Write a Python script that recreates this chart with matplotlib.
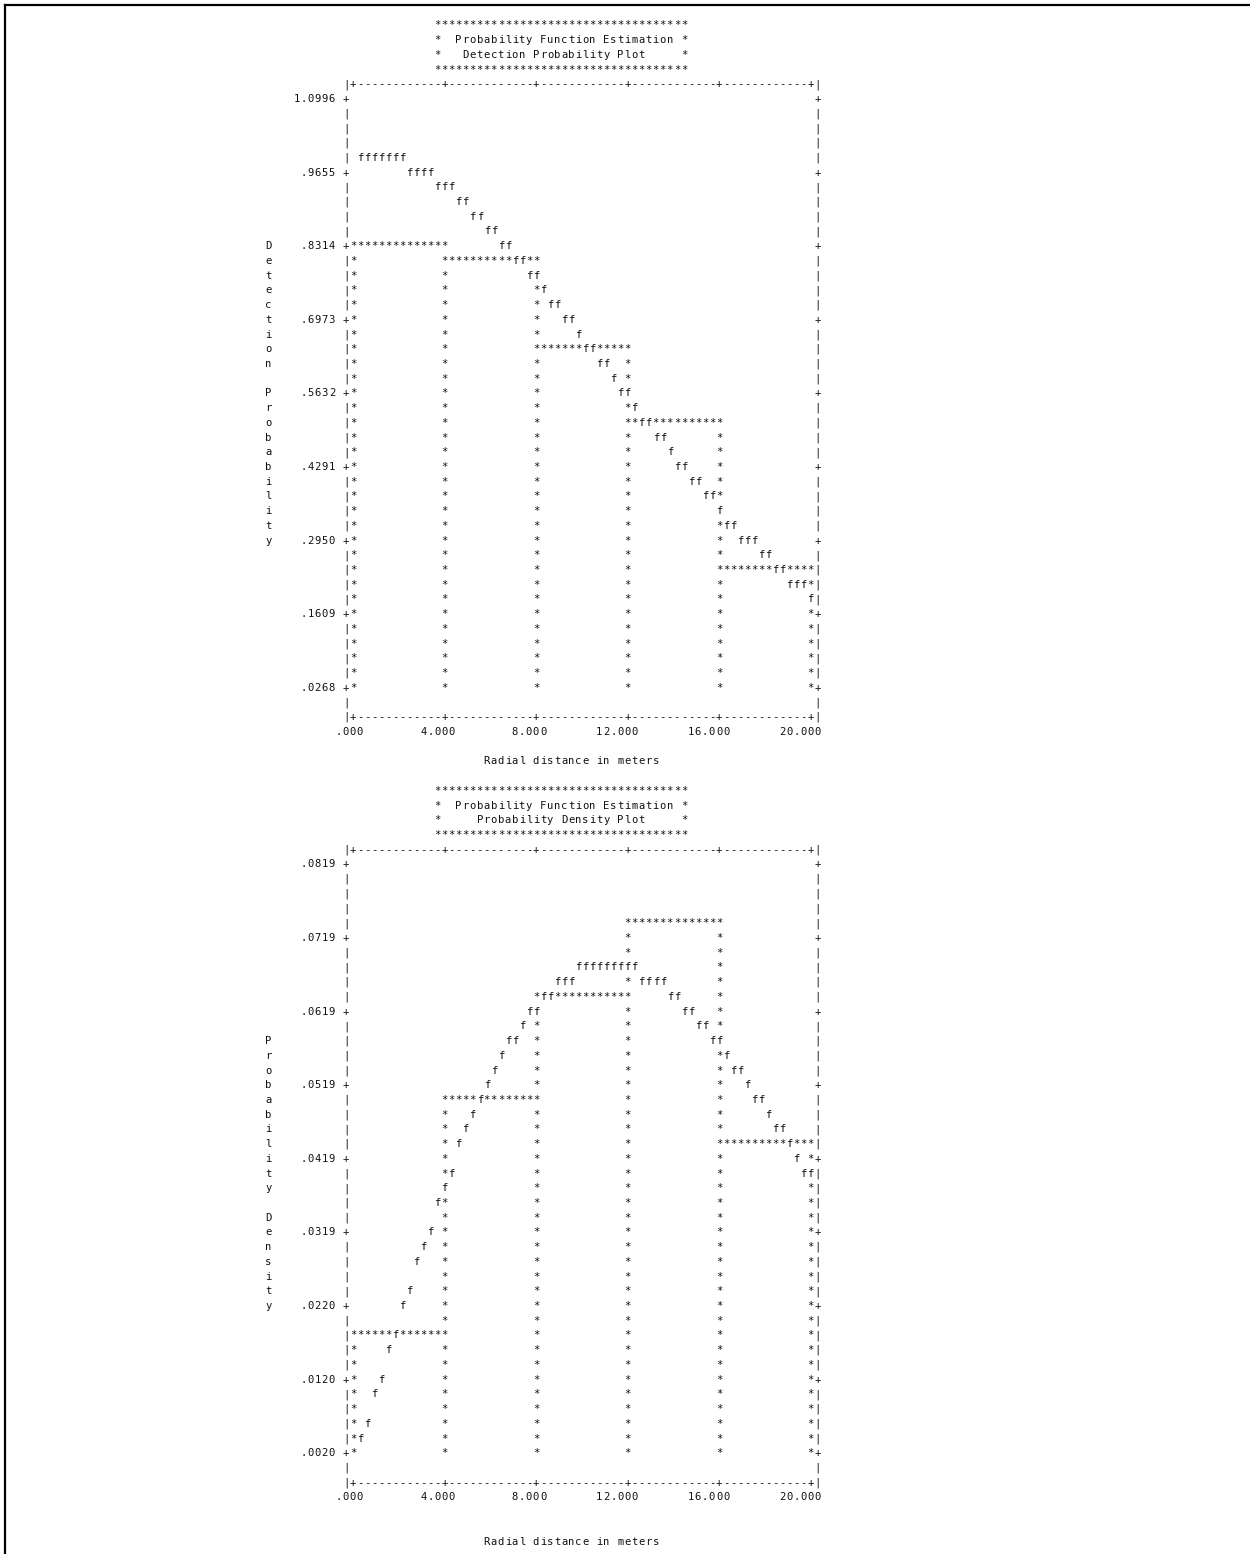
import numpy as np
import matplotlib
matplotlib.use("Agg")
import matplotlib.pyplot as plt
from matplotlib.lines import Line2D

# radial distance classes (m)
bin_edges = [0, 4, 8, 12, 16, 20]
x_ticks = [0, 4, 8, 12, 16, 20]
x_tick_labels = [".000", "4.000", "8.000", "12.000", "16.000", "20.000"]
x_title = "Radial distance in meters"

# detection probability plot
det_ticks = [1.0996, .9655, .8314, .6973, .5632, .4291, .2950, .1609, .0268]
det_tick_labels = ["1.0996", ".9655", ".8314", ".6973", ".5632", ".4291", ".2950", ".1609", ".0268"]
det_hist = [0.831, 0.805, 0.644, 0.510, 0.241]
det_fit = [1.000, 0.999, 0.997, 0.994, 0.991, 0.986, 0.981, 0.975, 0.969, 0.962,
           0.955, 0.948, 0.940, 0.932, 0.920, 0.907, 0.893, 0.879, 0.865, 0.851,
           0.838, 0.824, 0.811, 0.797, 0.784, 0.770, 0.754, 0.733, 0.716, 0.703,
           0.689, 0.672, 0.655, 0.640, 0.625, 0.610, 0.592, 0.574, 0.557, 0.538,
           0.521, 0.504, 0.490, 0.474, 0.457, 0.440, 0.423, 0.410, 0.395, 0.381,
           0.366, 0.350, 0.333, 0.318, 0.305, 0.295, 0.284, 0.272, 0.261, 0.250,
           0.237, 0.225, 0.215, 0.205, 0.195]
det_title = ["************************************",
             "*  Probability Function Estimation *",
             "*   Detection Probability Plot     *",
             "************************************"]
det_ylabel = "Detection Probability"

# probability density plot
dens_ticks = [.0819, .0719, .0619, .0519, .0419, .0319, .0220, .0120, .0020]
dens_tick_labels = [".0819", ".0719", ".0619", ".0519", ".0419", ".0319", ".0220", ".0120", ".0020"]
dens_hist = [0.0180, 0.0499, 0.0639, 0.0739, 0.0440]
dens_fit = [0.0042, 0.0068, 0.0094, 0.0121, 0.0152, 0.0177, 0.0216, 0.0238, 0.0275, 0.0298,
            0.0322, 0.0354, 0.0377, 0.0401, 0.0434, 0.0458, 0.0481, 0.0502, 0.0522, 0.0541,
            0.0560, 0.0575, 0.0588, 0.0601, 0.0613, 0.0625, 0.0636, 0.0646, 0.0653, 0.0660,
            0.0667, 0.0672, 0.0676, 0.0679, 0.0681, 0.0682, 0.0681, 0.0679, 0.0676, 0.0671,
            0.0666, 0.0661, 0.0655, 0.0651, 0.0643, 0.0635, 0.0626, 0.0616, 0.0606, 0.0595,
            0.0585, 0.0574, 0.0562, 0.0547, 0.0535, 0.0521, 0.0507, 0.0494, 0.0481, 0.0467,
            0.0455, 0.0441, 0.0427, 0.0407, 0.0396]
dens_title = ["************************************",
              "*  Probability Function Estimation *",
              "*     Probability Density Plot     *",
              "************************************"]
dens_ylabel = "Probability Density"

# line printer layout (pixels)
W, H = 1250, 1554
COL0 = 353.0      # centre of first plot column
CW = 7.04         # character width
LH = 14.72        # line height
NCOL = 65         # columns between first and last x tick
u = (x_ticks[-1] - x_ticks[0]) / NCOL
FS = 7.6
FONT = "DejaVu Sans Mono"
INK = "#111111"

fig = plt.figure(figsize=(W / 100, H / 100), dpi=100)

# page frame
fig.add_artist(Line2D([5 / W, 1], [1 - 5 / H, 1 - 5 / H], transform=fig.transFigure, color="black", lw=1.6))
fig.add_artist(Line2D([5 / W, 5 / W], [1 - 5 / H, 0], transform=fig.transFigure, color="black", lw=1.6))


def printer_plot(row0_px, ticks, tick_labels, hist, fit, title, ylabel, xlabel_row):
    ymax = ticks[0]
    dy = (ticks[0] - ticks[-1]) / (5 * (len(ticks) - 1))
    nrow = round(ymax / dy)

    left = COL0 + CW * -1.5
    right = COL0 + CW * (NCOL + 1.5)
    top = row0_px + LH * -1.5
    bot = row0_px + LH * (nrow + 1.5)
    ax = fig.add_axes([left / W, 1 - bot / H, (right - left) / W, (bot - top) / H])
    ax.set_xlim(-1.5 * u, (NCOL + 1.5) * u)
    ax.set_ylim(ymax - (nrow + 1.5) * dy, ymax + 1.5 * dy)
    ax.axis("off")

    def col(x):
        return int(round(x / u))

    def row(v):
        return int(round((ymax - v) / dy))

    grid = {}
    tick_cols = [col(t) for t in x_ticks]
    tick_rows = [row(t) for t in ticks]

    # frame
    for r in (-1, nrow + 1):
        for j in range(0, NCOL + 1):
            grid[(r, j)] = "+" if j in tick_cols else "-"
        grid[(r, -1)] = "|"
        grid[(r, NCOL + 1)] = "|"
    for r in range(0, nrow + 1):
        ch = "+" if r in tick_rows else "|"
        grid[(r, -1)] = ch
        grid[(r, NCOL + 1)] = ch

    # histogram
    for i, h in enumerate(hist):
        c0, c1 = col(bin_edges[i]), col(bin_edges[i + 1])
        t = row(h)
        for j in range(c0, c1 + 1):
            grid[(t, j)] = "*"
        for r in range(t, nrow):
            grid[(r, c0)] = "*"
            grid[(r, c1)] = "*"

    # fitted function
    fit_x = x_ticks[-1] * np.arange(1, len(fit) + 1) / len(fit)
    for x, v in zip(fit_x, fit):
        grid[(row(v), col(x))] = "f"

    def put(j, r, s):
        for k, ch in enumerate(s):
            if ch != " ":
                ax.text((j + k) * u, ymax - r * dy, ch, ha="center", va="center",
                        fontsize=FS, family=FONT, color=INK, clip_on=False)

    for (r, j), ch in grid.items():
        put(j, r, ch)

    # y tick labels
    for t, lab in zip(ticks, tick_labels):
        put(-3 - len(lab) + 1, row(t), lab)
    # x tick labels
    for t, lab in zip(x_ticks, x_tick_labels):
        put(col(t) + 1 - len(lab) + 1, nrow + 2, lab)
    # axis titles
    put(19, xlabel_row, x_title)
    r0 = round((nrow + 1 - len(ylabel)) / 2)
    for k, ch in enumerate(ylabel):
        put(-12, r0 + k, ch)
    # banner
    for k, line in enumerate(title):
        put(12, -5 + k, line)


printer_plot(99.0, det_ticks, det_tick_labels, det_hist, det_fit, det_title, det_ylabel, 45)
printer_plot(99.0 + 52 * LH, dens_ticks, dens_tick_labels, dens_hist, dens_fit, dens_title, dens_ylabel, 46)

fig.savefig("out.png", dpi=100)
